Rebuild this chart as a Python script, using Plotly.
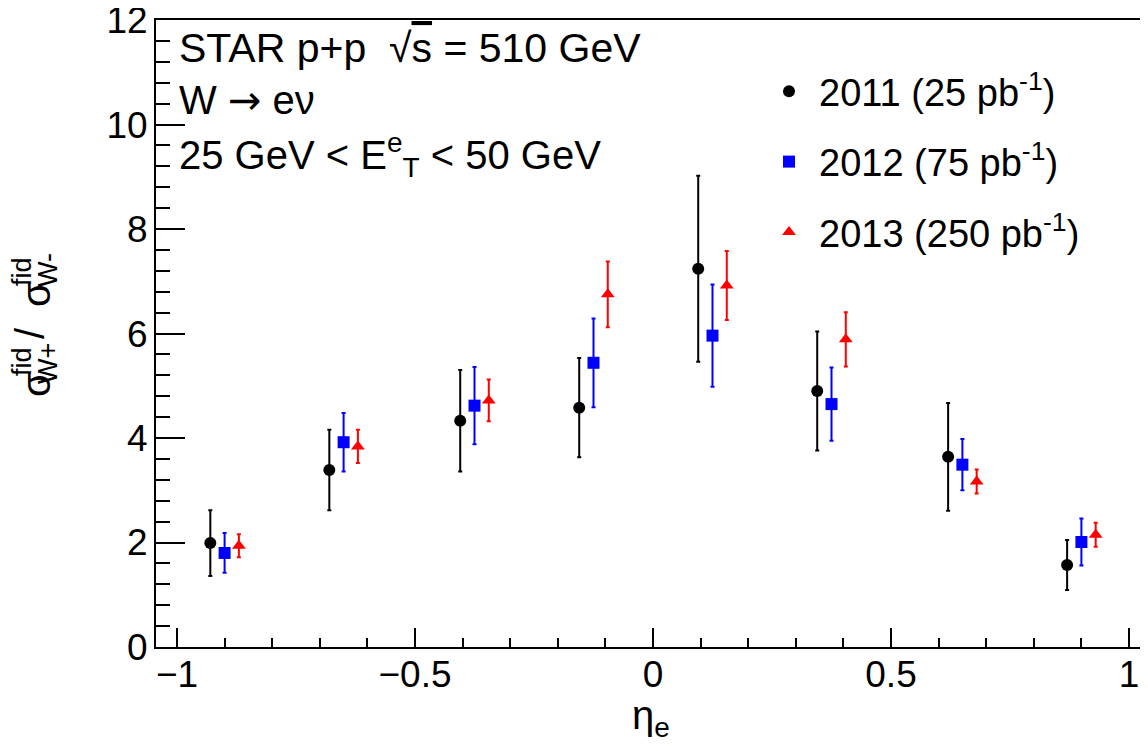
import plotly.graph_objects as go

# ---------------- data ----------------
eta_2011 = [-0.93, -0.68, -0.405, -0.155, 0.095, 0.345, 0.62, 0.87]
ratio_2011 = [1.99, 3.39, 4.33, 4.58, 7.24, 4.90, 3.64, 1.57]
err_2011 = [0.63, 0.77, 0.97, 0.95, 1.78, 1.14, 1.03, 0.48]

eta_2012 = [-0.90, -0.65, -0.375, -0.125, 0.125, 0.375, 0.65, 0.90]
ratio_2012 = [1.80, 3.92, 4.62, 5.44, 5.96, 4.65, 3.49, 2.01]
err_2012 = [0.38, 0.56, 0.74, 0.85, 0.98, 0.70, 0.49, 0.45]

eta_2013 = [-0.87, -0.62, -0.345, -0.095, 0.155, 0.405, 0.68, 0.93]
ratio_2013 = [1.94, 3.84, 4.72, 6.75, 6.92, 5.89, 3.17, 2.15]
err_2013 = [0.22, 0.32, 0.40, 0.63, 0.66, 0.52, 0.23, 0.23]

labels = ["2011 (25 pb<sup>-1</sup>)", "2012 (75 pb<sup>-1</sup>)", "2013 (250 pb<sup>-1</sup>)"]

x_ticks = [-1, -0.5, 0, 0.5, 1]
x_ticktext = ["\u22121", "\u22120.5", "0", "0.5", "1"]
y_ticks = [0, 2, 4, 6, 8, 10, 12]

# ---------------- layout geometry ----------------
# the page body has an 8px margin, so the figure is drawn 8px in from the corner
OFF = 8
W, H = 1148 - OFF, 751 - OFF
L, R, T, B = 156 - OFF, 1148 - OFF, 20 - OFF, 647 - OFF
FONT = "Liberation Sans, Arial, Helvetica, sans-serif"


def px(xs):
    """screen x (as in the reference) -> paper x"""
    return (xs - OFF - L) / (R - L)


def py(ys):
    """screen y (as in the reference) -> paper y"""
    return (B - (ys - OFF)) / (B - T)


fig = go.Figure()

series = [
    (eta_2011, ratio_2011, err_2011, "black", "circle", labels[0]),
    (eta_2012, ratio_2012, err_2012, "#0000ff", "square", labels[1]),
    (eta_2013, ratio_2013, err_2013, "#ff0000", "triangle-up", labels[2]),
]
for i, (xs, ys, es, col, sym, name) in enumerate(series):
    fig.add_trace(go.Scatter(
        x=xs, y=ys, mode="markers", name=name,
        legendgroup=str(i),
        marker=dict(symbol=sym, size=12, color=col, line=dict(width=0)),
        error_y=dict(type="data", array=es, visible=True, color=col,
                     thickness=2, width=2),
    ))

fig.update_xaxes(
    range=[(156 - 653) / 476.0, (1148 - 653) / 476.0],
    tickmode="array", tickvals=x_ticks, ticktext=x_ticktext,
    ticks="inside", ticklen=19, tickwidth=1.5, tickcolor="black",
    minor=dict(dtick=0.1, ticks="inside", ticklen=9, tickwidth=1.5, tickcolor="black"),
    showline=True, linecolor="black", linewidth=2, mirror=True,
    showgrid=False, zeroline=False, automargin=False,
    tickfont=dict(family=FONT, size=37, color="black"),
    ticklabelstandoff=-6, ticklabeloverflow="allow",
)
fig.update_yaxes(
    range=[0, 12.002],
    tickmode="array", tickvals=y_ticks,
    ticks="inside", ticklen=29, tickwidth=1.5, tickcolor="black",
    minor=dict(dtick=0.4, ticks="inside", ticklen=14, tickwidth=1.5, tickcolor="black"),
    showline=True, linecolor="black", linewidth=2, mirror=False,
    showgrid=False, zeroline=False, automargin=False,
    tickfont=dict(family=FONT, size=37, color="black"),
    ticklabelstandoff=-1, ticklabeloverflow="allow",
)

ann = []
# text block top-left
txt_font = dict(family=FONT, size=40, color="black")
ann.append(dict(text="STAR p+p  \u221a<span style='text-decoration:overline'>s</span> = 510 GeV",
                x=px(177), y=py(48), xref="paper", yref="paper",
                xanchor="left", yanchor="middle", showarrow=False,
                font=dict(family=FONT, size=41, color="black")))
ann.append(dict(text="W <span style='font-family:DejaVu Sans'>\u2192</span> e\u03bd",
                x=px(177), y=py(100), xref="paper", yref="paper",
                xanchor="left", yanchor="middle", showarrow=False, font=txt_font))
ann.append(dict(text="25 GeV < E<sup>e</sup><sub>T</sub> < 50 GeV",
                x=px(177), y=py(155), xref="paper", yref="paper",
                xanchor="left", yanchor="middle", showarrow=False, font=txt_font))

# x-axis title
ann.append(dict(text="\u03b7<sub>e</sub>", x=px(651), y=py(718), xref="paper", yref="paper",
                xanchor="center", yanchor="middle", showarrow=False,
                font=dict(family=FONT, size=40, color="black")))

# y-axis title built from stacked pieces (rotated)
big = dict(family=FONT, size=40, color="black")
small = dict(family=FONT, size=27, color="black")
ytitle_parts = [
    ("\u03c3", 36, 385, big),
    ("fid", 22, 362, small),
    ("W+", 48, 364, small),
    ("/", 30, 333, big),
    ("\u03c3", 36, 295, big),
    ("fid", 22, 272, small),
    ("W-", 48, 270, small),
]
for t, xx, yy, f in ytitle_parts:
    ann.append(dict(text=t, x=px(xx), y=py(yy), xref="paper", yref="paper",
                    xanchor="center", yanchor="middle", showarrow=False,
                    textangle=-90, font=f))

fig.update_layout(
    width=W, height=H,
    margin=dict(l=L, r=W - R, t=T, b=H - B, pad=0, autoexpand=False),
    paper_bgcolor="white", plot_bgcolor="white",
    showlegend=True,
    legend=dict(x=px(759), y=py(60), xanchor="left", yanchor="top",
                bgcolor="rgba(0,0,0,0)", borderwidth=0,
                font=dict(family=FONT, size=38, color="black"),
                traceorder="grouped", tracegroupgap=18, itemwidth=50),
    annotations=ann,
)

fig.write_html("out.html")
